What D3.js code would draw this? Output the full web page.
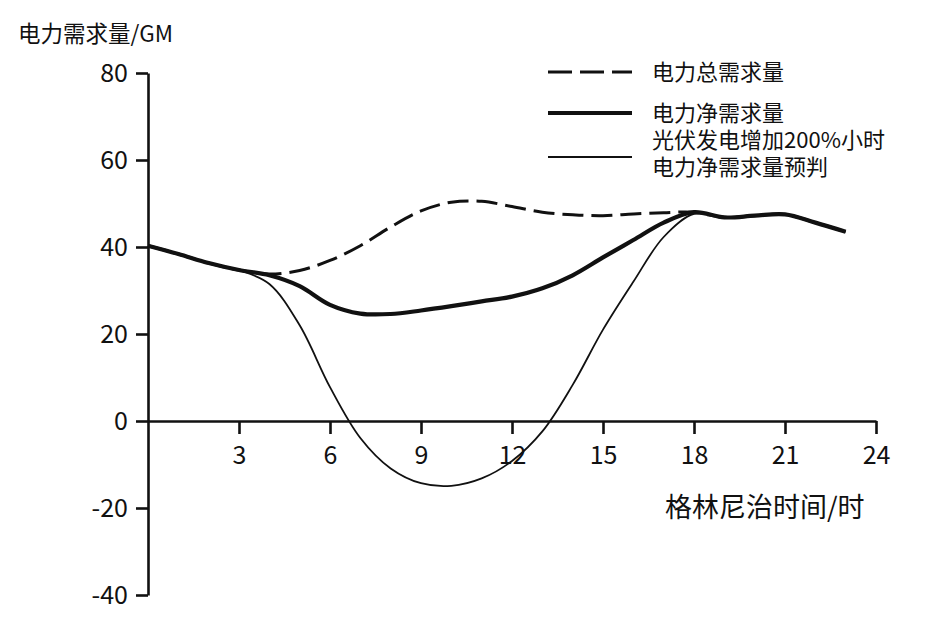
<!DOCTYPE html>
<html>
<head>
<meta charset="utf-8">
<script src="https://cdn.jsdelivr.net/npm/d3@7"></script>
<style>
  html, body { margin: 0; padding: 0; background: #fff; }
  svg { display: block; font-family: "Noto Sans CJK SC", "Noto Sans", sans-serif; }
</style>
</head>
<body>
<svg id="chart" width="946" height="633"></svg>
<script>
// ---- data ----
const hours = [0,1,2,3,4,5,6,7,8,9,10,11,12,13,14,15,16,17,18,19,20,21,22,23];
const totalDemand = [40.3,38.4,36.3,34.7,33.8,34.6,36.9,40.3,44.6,48.3,50.3,50.5,49.3,48.0,47.4,47.2,47.6,47.9,48.0,46.8,47.2,47.5,45.6,43.5];
const netDemand   = [40.3,38.4,36.3,34.7,33.5,31.0,26.7,24.7,24.6,25.4,26.4,27.5,28.6,30.5,33.5,37.6,41.6,45.6,48.0,46.8,47.2,47.5,45.6,43.5];
const forecast    = [40.3,38.4,36.3,34.7,31.5,22.0,7.8,-3.9,-10.9,-14.3,-14.9,-13.2,-9.2,-2.4,8.3,21.0,32.0,42.3,47.6,46.8,47.2,47.5,45.6,43.5];
const xTicks = [3,6,9,12,15,18,21,24];
const yTicks = [-40,-20,0,20,40,60,80];
const seriesNames = ["电力总需求量", "电力净需求量", ["光伏发电增加200%小时", "电力净需求量预判"]];
const yTitle = "电力需求量/GM";
const xTitle = "格林尼治时间/时";

// ---- layout ----
const svg = d3.select("#chart");
const ink = "#111";
const fontCJK = "'Noto Sans CJK SC', sans-serif";
const x = d3.scaleLinear().domain([0, 24]).range([148, 876]);
const y = d3.scaleLinear().domain([-40, 80]).range([595, 73]);

// y axis
const yAxis = svg.append("g").attr("transform", `translate(${x(0)},0)`)
  .call(d3.axisLeft(y).tickValues(yTicks).tickFormat(d => String(d))
    .tickSize(12).tickPadding(8).tickSizeOuter(0));
yAxis.select(".domain").attr("stroke", ink).attr("stroke-width", 2.6);
yAxis.selectAll(".tick line").attr("stroke", ink).attr("stroke-width", 2.6);
yAxis.selectAll(".tick text").attr("fill", ink).attr("font-size", 25).attr("font-family", fontCJK);

// x axis at y=0
const xAxis = svg.append("g").attr("transform", `translate(0,${y(0)})`)
  .call(d3.axisBottom(x).tickValues(xTicks).tickFormat(d => String(d))
    .tickSize(13).tickPadding(12).tickSizeOuter(0));
xAxis.select(".domain").attr("stroke", ink).attr("stroke-width", 2.6);
xAxis.selectAll(".tick line").attr("stroke", ink).attr("stroke-width", 2.6);
xAxis.selectAll(".tick text").attr("fill", ink).attr("font-size", 25).attr("font-family", fontCJK);

// titles
svg.append("text").attr("x", 18).attr("y", 42).attr("font-size", 22.5).attr("fill", ink).text(yTitle);
svg.append("text").attr("x", 665).attr("y", 517).attr("font-size", 27).attr("fill", ink).text(xTitle);

// lines
const line = d3.line().x((d, i) => x(hours[i])).y(d => y(d)).curve(d3.curveCatmullRom.alpha(0.5));
svg.append("path").datum(forecast).attr("d", line)
  .attr("fill", "none").attr("stroke", ink).attr("stroke-width", 1.8);
svg.append("path").datum(totalDemand).attr("d", line)
  .attr("fill", "none").attr("stroke", ink).attr("stroke-width", 3).attr("stroke-dasharray", "21,8");
svg.append("path").datum(netDemand).attr("d", line)
  .attr("fill", "none").attr("stroke", ink).attr("stroke-width", 4.2);

// legend
const lg = svg.append("g");
const lx0 = 548, lx1 = 632, tx = 652;
lg.append("line").attr("x1", lx0).attr("x2", lx1).attr("y1", 72).attr("y2", 72)
  .attr("stroke", ink).attr("stroke-width", 3).attr("stroke-dasharray", "24,8");
lg.append("text").attr("x", tx).attr("y", 80).attr("font-size", 22).attr("fill", ink).text(seriesNames[0]);
lg.append("line").attr("x1", lx0).attr("x2", lx1).attr("y1", 113).attr("y2", 113)
  .attr("stroke", ink).attr("stroke-width", 4.2);
lg.append("text").attr("x", tx).attr("y", 121).attr("font-size", 22).attr("fill", ink).text(seriesNames[1]);
lg.append("line").attr("x1", lx0).attr("x2", lx1).attr("y1", 157).attr("y2", 157)
  .attr("stroke", ink).attr("stroke-width", 1.8);
lg.append("text").attr("x", tx).attr("y", 148).attr("font-size", 22).attr("fill", ink).text(seriesNames[2][0]);
lg.append("text").attr("x", tx).attr("y", 175).attr("font-size", 22).attr("fill", ink).text(seriesNames[2][1]);
</script>
</body>
</html>
